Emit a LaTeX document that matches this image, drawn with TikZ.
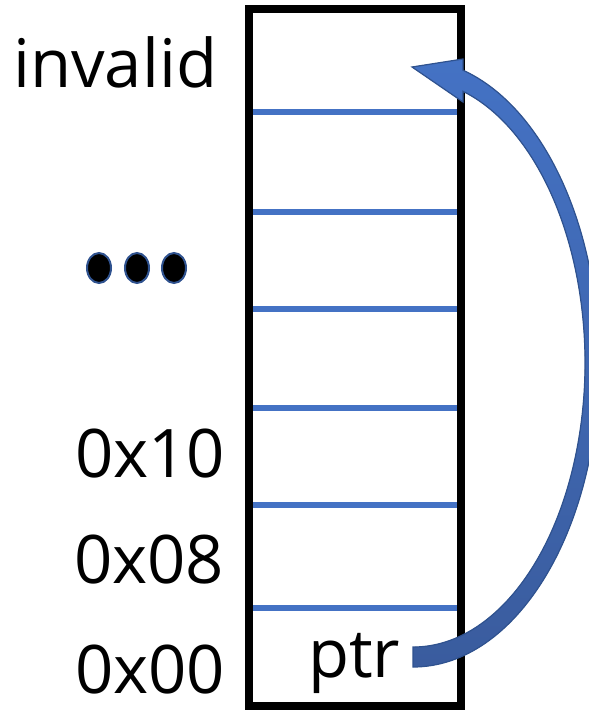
\documentclass[tikz,border=0pt]{standalone}
\usepackage{fontspec}
\usetikzlibrary{shapes.geometric}
\setmainfont{Open Sans}
\begin{document}
\begin{tikzpicture}[x=1pt,y=1pt,yscale=-1,
  lbl/.style={inner sep=0pt,anchor=base west,font=\fontsize{67}{80}\selectfont},
  slot/.style={draw=slotblue,line width=5.5pt},
  dot/.style={ellipse,fill=black,draw=edgeblue,line width=2pt,minimum width=24pt,minimum height=30pt,inner sep=0pt}]
\definecolor{slotblue}{HTML}{4472C4}
\definecolor{edgeblue}{HTML}{2F528F}
\definecolor{tailblue}{HTML}{3A5C9E}
\useasboundingbox (0,0) rectangle (589,710);
\clip (0,0) rectangle (589,710);

% memory cells separators
\foreach \y in {112,212,309,408,505,608}
  \draw[slot] (250,\y) -- (461,\y);

% memory block outline
\node[draw=black,line width=8pt,minimum width=212pt,minimum height=697pt,inner sep=0pt] (mem) at (355,357.5) {};

% address labels
\node[lbl] (inv) at (13,87) {invalid};
\node[lbl] (a10) at (75,477) {0x10};
\node[lbl] (a08) at (74,583) {0x08};
\node[lbl] (a00) at (75,693) {0x00};
\node[lbl] (ptr) at (308,677) {ptr};

% ellipsis dots
\node[dot] (d1) at (99,268) {};
\node[dot] (d2) at (137,268) {};
\node[dot] (d3) at (174,268) {};

% curved block arrow from ptr up to the invalid slot
\fill[top color=slotblue,bottom color=tailblue,draw=edgeblue,line width=1.2pt,line join=miter]
  (463,59) -- (412,67) -- (463,102) -- (463,91.3)
  arc[start angle=-73.1,end angle=90,x radius=172pt,y radius=284pt]
  -- (413,667)
  arc[start angle=90,end angle=-74.4,x radius=186pt,y radius=304pt]
  -- cycle;
\end{tikzpicture}
\end{document}
